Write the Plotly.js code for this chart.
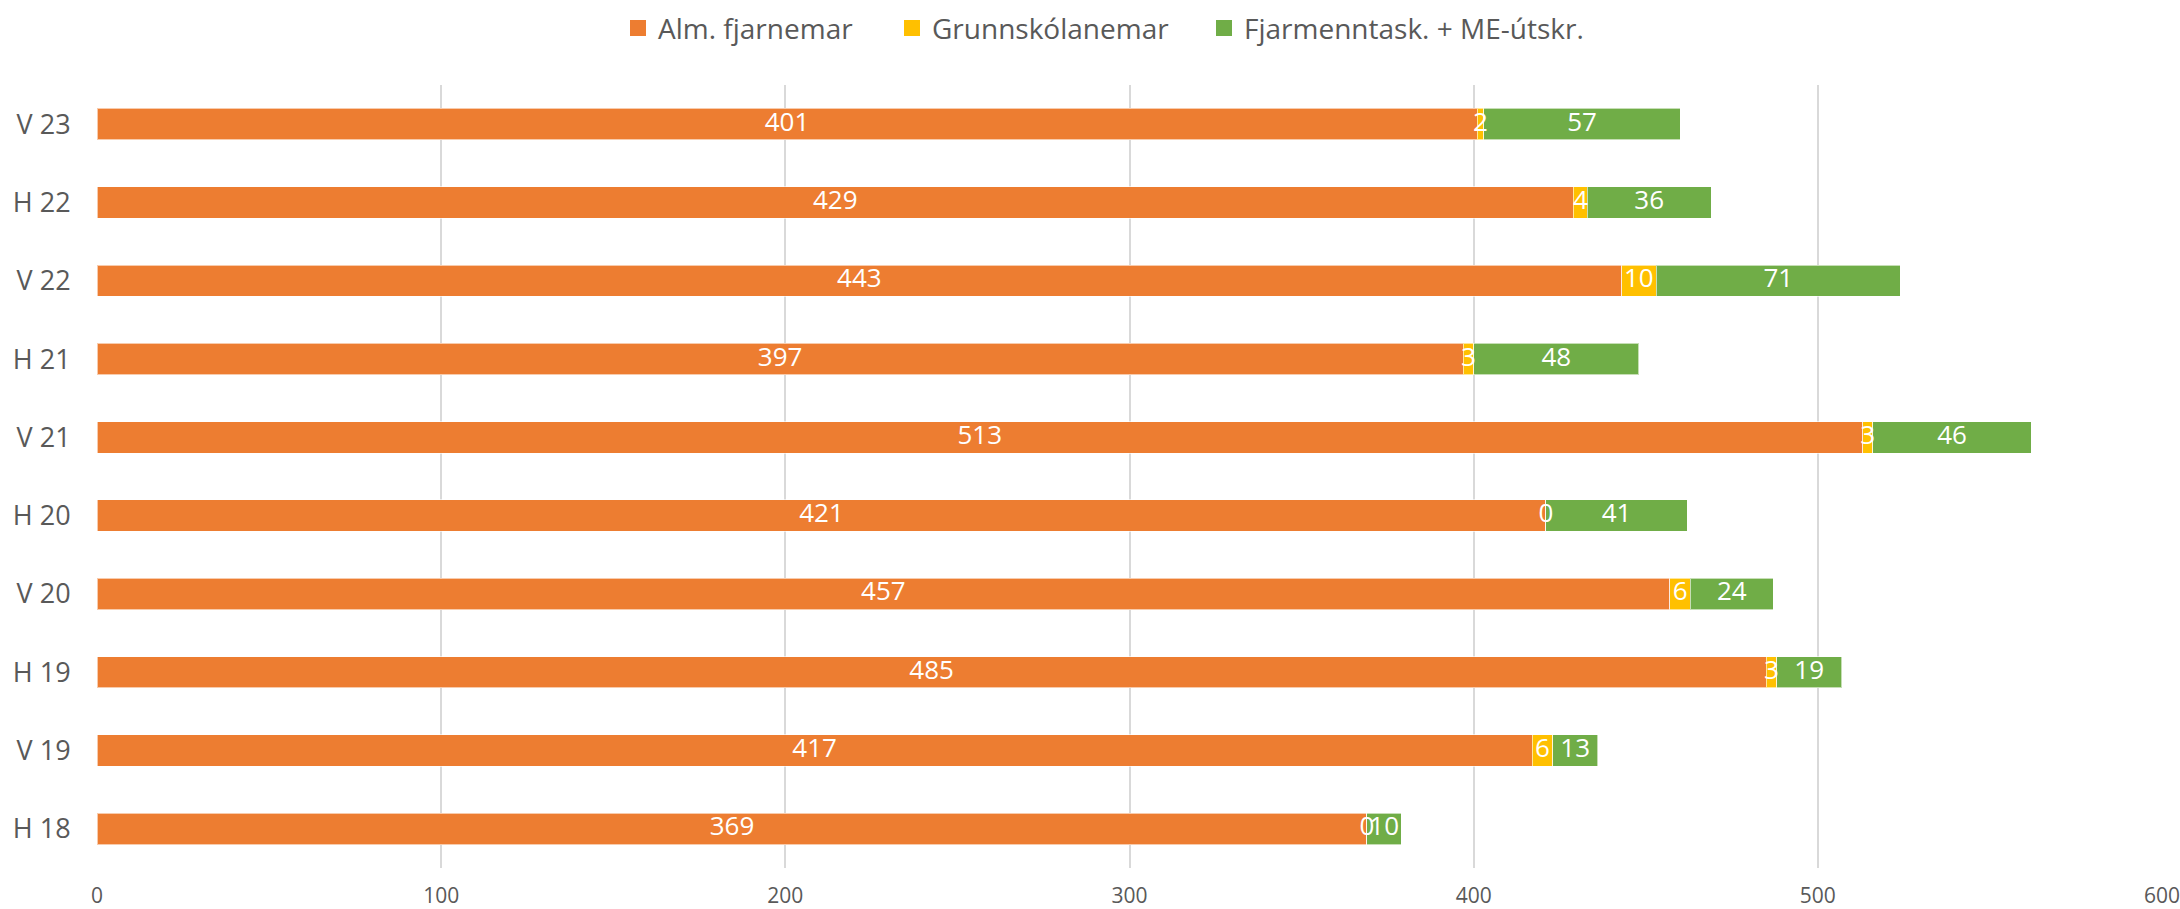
<!DOCTYPE html>
<html>
<head>
<meta charset="utf-8">
<script src="https://cdn.plot.ly/plotly-3.0.1.min.js"></script>
<style>html,body{margin:0;padding:0;background:#fff;}#chart{width:2180px;height:909px;}</style>
</head>
<body>
<div id="chart"></div>
<script>
const categories = ["V 23","H 22","V 22","H 21","V 21","H 20","V 20","H 19","V 19","H 18"];
const seriesNames = ["Alm. fjarnemar","Grunnskólanemar","Fjarmenntask. + ME-útskr."];
const almFjarnemar = [401,429,443,397,513,421,457,485,417,369];
const grunnskolanemar = [2,4,10,3,3,0,6,3,6,0];
const fjarmenntask = [57,36,71,48,46,41,24,19,13,10];
const xTicks = [0,100,200,300,400,500,600];

const colors = ["#ED7D31","#FFC000","#70AD47"];
const FONT = "Open Sans, sans-serif";
const series = [almFjarnemar, grunnskolanemar, fjarmenntask];
const legendIds = ["legend","legend2","legend3"];

const traces = [];
series.forEach((vals, i) => {
  traces.push({
    type: "bar", orientation: "h", name: seriesNames[i],
    y: categories, x: vals, showlegend: false,
    marker: {color: colors[i], line: {color: "rgba(255,255,255,0.6)", width: 1}},
    hoverinfo: "x+name"
  });
});
// legend entries with larger square swatches
series.forEach((vals, i) => {
  traces.push({
    type: "scatter", mode: "markers", name: seriesNames[i], legend: legendIds[i],
    x: [null], y: [null], showlegend: true, hoverinfo: "skip",
    marker: {symbol: "square", size: 16, color: colors[i]}
  });
});
// data labels centred in each segment
const base = categories.map(() => 0);
series.forEach((vals, i) => {
  const mids = vals.map((v, k) => base[k] + v / 2);
  vals.forEach((v, k) => base[k] += v);
  traces.push({
    type: "scatter", mode: "text", showlegend: false, hoverinfo: "skip",
    y: categories, x: mids, text: vals.map(String),
    textposition: "middle center",
    textfont: {family: FONT, size: 26, color: "#FFFFFF"}
  });
});

const legBase = {orientation: "h", xanchor: "left", xref: "container", yref: "container",
                 y: 0.969, yanchor: "middle", itemwidth: 30, bgcolor: "rgba(0,0,0,0)",
                 font: {family: FONT, size: 28, color: "#595959"}};
const layout = {
  width: 2180, height: 909,
  margin: {l: 97, r: 18, t: 85, b: 41},
  paper_bgcolor: "#fff", plot_bgcolor: "#fff",
  barmode: "stack", bargap: 0.6,
  showlegend: true,
  legend: Object.assign({}, legBase, {x: 618 / 2180}),
  legend2: Object.assign({}, legBase, {x: 892 / 2180}),
  legend3: Object.assign({}, legBase, {x: 1204 / 2180}),
  xaxis: {range: [0, 600], tickvals: xTicks, ticktext: xTicks.map(String),
          showgrid: true, gridcolor: "#D9D9D9", gridwidth: 2, zeroline: false,
          showline: false, ticks: "outside", ticklen: 9, tickcolor: "rgba(0,0,0,0)",
          ticklabeloverflow: "allow",
          tickfont: {family: FONT, size: 21, color: "#595959"}, fixedrange: true},
  yaxis: {type: "category", autorange: "reversed", showgrid: false, zeroline: false, showline: false,
          ticks: "outside", ticklen: 20, tickcolor: "rgba(0,0,0,0)",
          tickfont: {family: FONT, size: 27, color: "#595959"}, fixedrange: true}
};
Plotly.newPlot("chart", traces, layout, {displayModeBar: false, staticPlot: true});
</script>
</body>
</html>
